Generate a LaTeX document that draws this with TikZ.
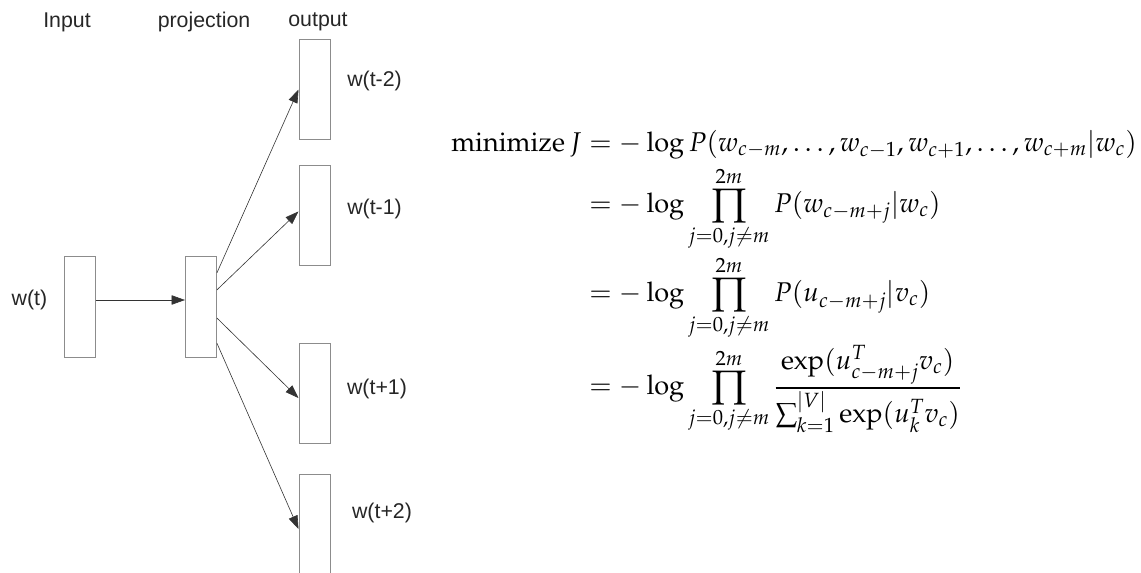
\documentclass[tikz,border=0pt]{standalone}
\usepackage{amsmath}
\usepackage{mathpazo}
\usepackage[no-math]{fontspec}
\newfontfamily\labelfont{Liberation Sans}
\usetikzlibrary{arrows.meta,calc}

\tikzset{
  vec/.style={draw=black!45, line width=0.75pt, minimum width=23.25pt,
    minimum height=75pt, inner sep=0pt},
  lab/.style={font=\labelfont\fontsize{16}{19}\selectfont, inner sep=0pt, text=black!85},
}

\begin{document}
\begin{tikzpicture}[x=0.75pt, y=-0.75pt, >={Triangle[length=10pt, width=7pt]}, line width=0.45pt]
  \useasboundingbox (0,0) rectangle (1141,573);
  % the three layers
  \node[vec] (in)   at (79.5,307) {};
  \node[vec] (proj) at (201,307) {};
  \node[vec] (o1) at (314.5,89.5) {};
  \node[vec] (o2) at (314.5,215.5) {};
  \node[vec] (o3) at (314.5,393) {};
  \node[vec] (o4) at (314.5,524) {};
  \node[lab] (tin)   at (67,22)  {Input};
  \node[lab] (tproj) at (204,22) {projection};
  \node[lab] (tout)  at (318,22) {output};
  \node[lab] (win) at (29.5,300) {w(t)};
  \node[lab] (w1) at (374.5,81)  {w(t-2)};
  \node[lab] (w2) at (374.5,209) {w(t-1)};
  \node[lab] (w3) at (377,388.5) {w(t+1)};
  \node[lab] (w4) at (382,512.5) {w(t+2)};
  % connections
  \draw[->, black!80] ([yshift=5.25pt]in.east) -- ([yshift=5.25pt]proj.west);
  \foreach \s/\t/\e in {0.16/o1/0.5, 0.33/o2/0.46, 0.61/o3/0.55, 0.86/o4/0.55}
    \draw[->, black!80] ($(proj.north east)!\s!(proj.south east)$) -- ($(\t.north west)!\e!(\t.south west)$);
  % objective
  \node[anchor=west, inner sep=0pt, font=\fontsize{20.3}{24}\selectfont] (obj) at (451,281) {$\displaystyle
    \begin{aligned}
      \mathrm{minimize}\, J &= -\log P(w_{c-m},\dots,w_{c-1},w_{c+1},\dots,w_{c+m}|w_c)\\
      &= -\log \prod_{j=0,j\neq m}^{2m} P(w_{c-m+j}|w_c)\\
      &= -\log \prod_{j=0,j\neq m}^{2m} P(u_{c-m+j}|v_c)\\
      &= -\log \prod_{j=0,j\neq m}^{2m} \frac{\exp(u_{c-m+j}^T v_c)}{\sum_{k=1}^{|V|}\exp(u_k^T v_c)}
    \end{aligned}$};
\end{tikzpicture}
\end{document}
